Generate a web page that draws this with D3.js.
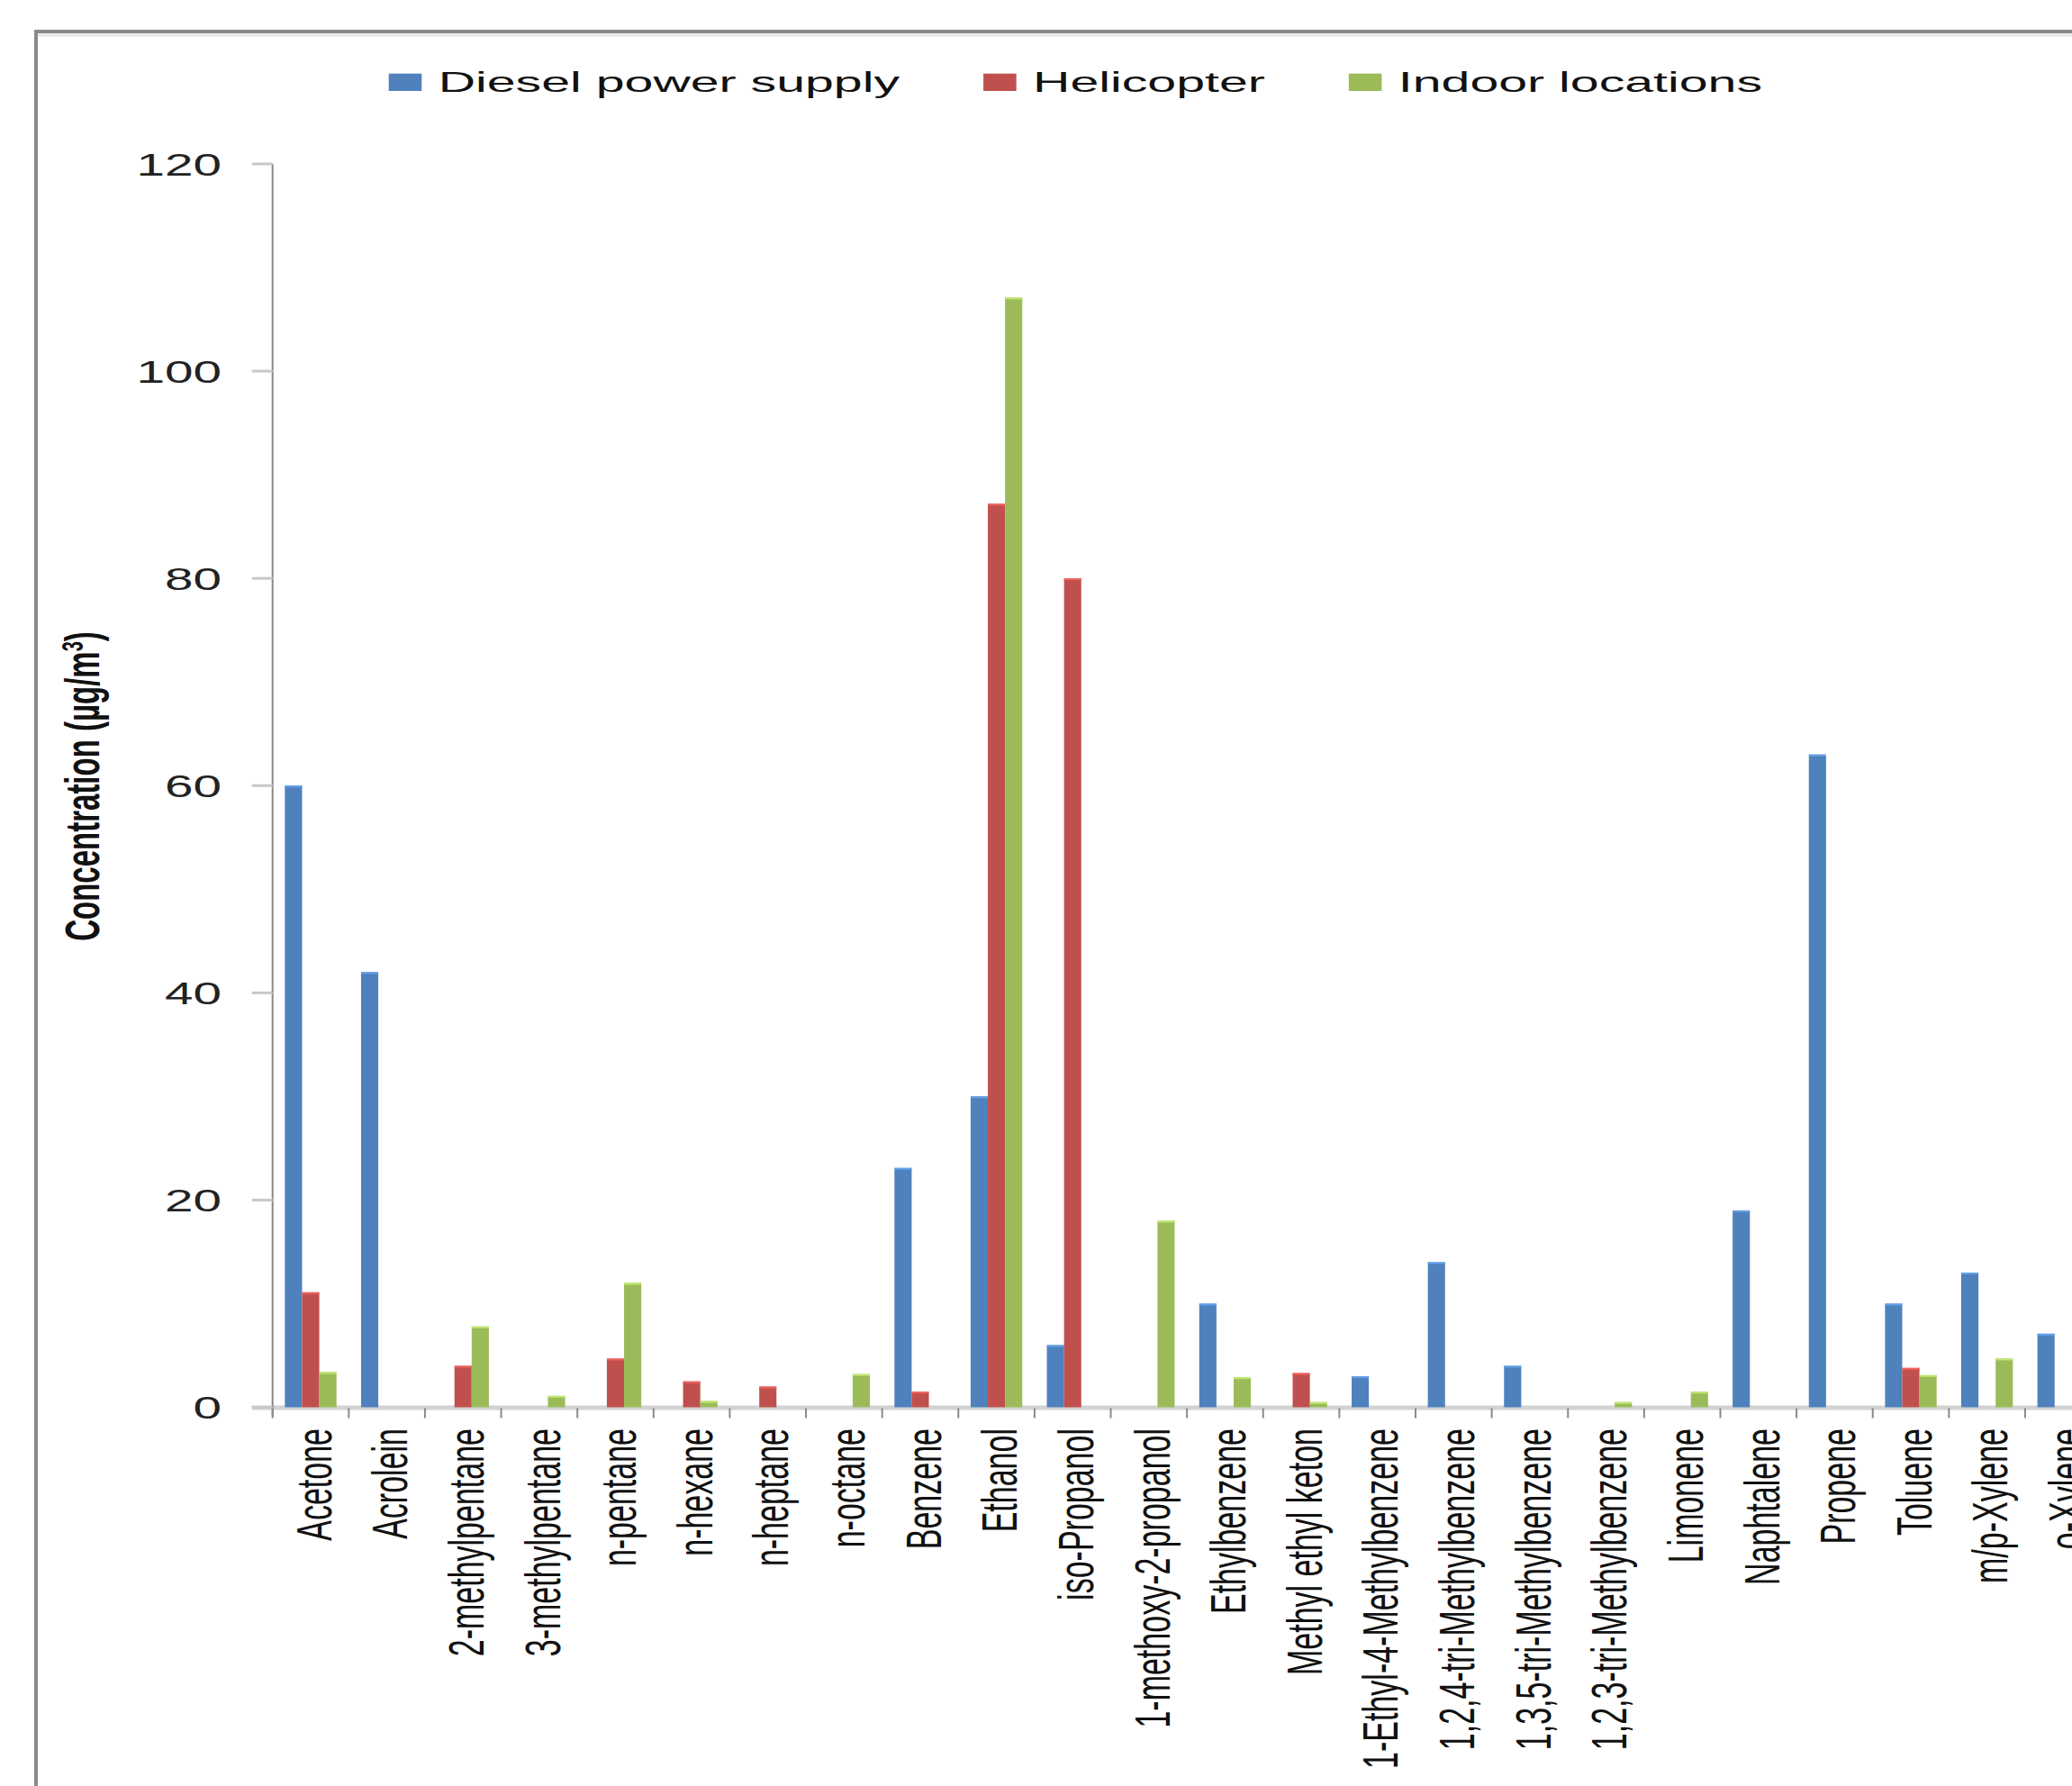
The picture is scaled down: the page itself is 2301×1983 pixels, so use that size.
<!DOCTYPE html>
<html>
<head>
<meta charset="utf-8">
<script src="https://cdn.jsdelivr.net/npm/d3@7"></script>
<style>
  html, body { margin: 0; padding: 0; background: #ffffff; }
  svg { display: block; }
</style>
</head>
<body>
<script>
// ---- Data ----
const categories = [
  "Acetone", "Acrolein", "2-methylpentane", "3-methylpentane", "n-pentane",
  "n-hexane", "n-heptane", "n-octane", "Benzene", "Ethanol", "iso-Propanol",
  "1-methoxy-2-propanol", "Ethylbenzene", "Methyl ethyl keton",
  "1-Ethyl-4-Methylbenzene", "1,2,4-tri-Methylbenzene", "1,3,5-tri-Methylbenzene",
  "1,2,3-tri-Methylbenzene", "Limonene", "Naphtalene", "Propene", "Toluene",
  "m/p-Xylene", "o-Xylene"
];
const seriesNames = ["Diesel power supply", "Helicopter", "Indoor locations"];
const dieselValues     = [60, 42, 0, 0, 0, 0, 0, 0, 23.1, 30, 6, 0, 10, 0, 3, 14, 4, 0, 0, 19, 63, 10, 13, 7.1];
const helicopterValues = [11.1, 0, 4.0, 0, 4.7, 2.5, 2.0, 0, 1.5, 87.2, 80, 0, 0, 3.3, 0, 0, 0, 0, 0, 0, 0, 3.8, 0, 0];
const indoorValues     = [3.4, 0, 7.8, 1.1, 12.0, 0.6, 0, 3.2, 0, 107.1, 0, 18, 2.9, 0.5, 0, 0, 0, 0.5, 1.5, 0, 0, 3.1, 4.7, 0];
const yTicks = [0, 20, 40, 60, 80, 100, 120];
const yTitle = "Concentration (µg/m";

// ---- Layout / style ----
const W = 2301, H = 1983;
const colors = ["#4F81BD", "#C0504D", "#9BBB59"];
const font = "'Liberation Sans', Arial, sans-serif";
const axisX0 = 302.7, step = 84.62;
const yTop = 182, yBottom = 1562.5;
const SX = 1.62;      // horizontal stretch of the original picture
const SXL = 1.79;     // legend text stretch

const svg = d3.select("body").append("svg")
  .attr("width", W).attr("height", H)
  .style("background", "#fff");

// outer frame (cut off at right/bottom)
svg.append("rect")
  .attr("x", 40).attr("y", 35)
  .attr("width", 2400).attr("height", 2100)
  .attr("fill", "none").attr("stroke", "#8a8a8a").attr("stroke-width", 4);
svg.append("line").attr("x1", 42).attr("x2", W).attr("y1", 39).attr("y2", 39)
  .attr("stroke", "#e6e6e6").attr("stroke-width", 3);

const x = d3.scaleBand().domain(categories)
  .range([axisX0, axisX0 + step * categories.length])
  .paddingInner(0).paddingOuter(0);
const groupPad = 13.65;
const x1 = d3.scaleBand().domain(seriesNames)
  .range([groupPad, step - groupPad]).padding(0);
const y = d3.scaleLinear().domain([0, 120]).range([yBottom, yTop]);

const table = seriesNames.map((s, i) => ({
  name: s, color: colors[i],
  values: [dieselValues, helicopterValues, indoorValues][i]
}));

// ---- X axis band (drawn under bars) ----
const xAxisG = svg.append("g");
xAxisG.append("line")
  .attr("x1", axisX0 - 23).attr("x2", W + 10)
  .attr("y1", y(0) + 0.5).attr("y2", y(0) + 0.5)
  .attr("stroke", "#d2d2d2").attr("stroke-width", 5);

// ---- Bars ----
const groups = svg.append("g").selectAll("g")
  .data(table).join("g").attr("fill", d => d.color);
groups.selectAll("rect")
  .data(d => d.values.map((v, i) => ({ v, cat: categories[i], s: d.name, color: d.color })))
  .join("rect")
  .filter(d => d.v > 0)
  .attr("x", d => x(d.cat) + x1(d.s))
  .attr("width", x1.bandwidth())
  .attr("y", d => y(d.v))
  .attr("height", d => y(0) - y(d.v));
// subtle lighter top edge
groups.selectAll("line.top")
  .data(d => d.values.map((v, i) => ({ v, cat: categories[i], s: d.name, color: d.color })).filter(d => d.v > 0))
  .join("line").attr("class", "top")
  .attr("x1", d => x(d.cat) + x1(d.s))
  .attr("x2", d => x(d.cat) + x1(d.s) + x1.bandwidth())
  .attr("y1", d => y(d.v) + 1).attr("y2", d => y(d.v) + 1)
  .attr("stroke", d => d3.color(d.color).brighter(0.6)).attr("stroke-width", 2);

// ---- Y axis ----
const yAxisG = svg.append("g");
yAxisG.append("line")
  .attr("x1", axisX0).attr("x2", axisX0)
  .attr("y1", y(120)).attr("y2", y(0) + 10)
  .attr("stroke", "#888").attr("stroke-width", 2);
yAxisG.selectAll("line.tick").data(yTicks).join("line").attr("class", "tick")
  .attr("x1", axisX0 - 23).attr("x2", axisX0)
  .attr("y1", d => y(d)).attr("y2", d => y(d))
  .attr("stroke", "#c8c8c8").attr("stroke-width", 3);
yAxisG.selectAll("text").data(yTicks).join("text")
  .attr("transform", d => `translate(246,${y(d)}) scale(${SX},1)`)
  .attr("text-anchor", "end").attr("dy", "0.358em")
  .attr("font-family", font).attr("font-size", 35).attr("fill", "#222")
  .text(d => d);

// ---- X axis ticks and labels ----
const tickPos = d3.range(categories.length + 1).map(i => axisX0 + i * step);
xAxisG.selectAll("line.tick").data(tickPos).join("line").attr("class", "tick")
  .attr("x1", d => d).attr("x2", d => d)
  .attr("y1", y(0) + 1).attr("y2", y(0) + 12)
  .attr("stroke", "#8a8a8a").attr("stroke-width", 2);
xAxisG.selectAll("text").data(categories).join("text")
  .attr("transform", d => `translate(${x(d) + x.bandwidth() / 2 + 3},1586) scale(${SX},1) rotate(-90)`)
  .attr("text-anchor", "end").attr("dy", "0.358em")
  .attr("font-family", font).attr("font-size", 34).attr("fill", "#111")
  .text(d => d);

// ---- Y title ----
const yt = svg.append("text")
  .attr("transform", `translate(91,873) scale(${SX},1) rotate(-90)`)
  .attr("text-anchor", "middle").attr("dy", "0.358em")
  .attr("font-family", font).attr("font-size", 33).attr("font-weight", "bold")
  .attr("fill", "#111");
yt.append("tspan").text(yTitle);
yt.append("tspan").attr("baseline-shift", "super").attr("font-size", 20).text("3");
yt.append("tspan").text(")");

// ---- Legend ----
let lx = 431.7;
const legend = svg.append("g");
table.forEach(s => {
  legend.append("rect").attr("x", lx).attr("y", 81.7)
    .attr("width", 36.6).attr("height", 19.3).attr("fill", s.color);
  const tx = lx + 55;
  const t = legend.append("text")
    .attr("transform", `translate(${tx},101.5) scale(${SXL},1)`)
    .attr("font-family", font).attr("font-size", 32).attr("fill", "#111")
    .text(s.name);
  const w = t.node().getComputedTextLength() * SXL;
  lx = tx + w + 93;
});
</script>
</body>
</html>
